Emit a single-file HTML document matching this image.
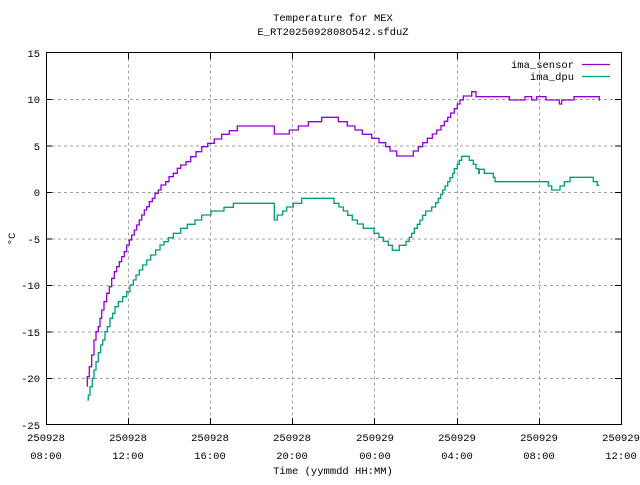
<!DOCTYPE html>
<html><head><meta charset="utf-8"><style>
body{margin:0;background:#fff}
svg text{font-family:"Liberation Mono",monospace;font-size:10.5px;fill:#000}
</style></head><body>
<svg id="s" width="640" height="480" viewBox="0 0 640 480" xmlns="http://www.w3.org/2000/svg">
<rect width="640" height="480" fill="#fff"/>
<g stroke="#a0a0a0" stroke-width="1" stroke-dasharray="3,3" fill="none">
<path d="M46 99.5H621M46 146H621M46 192.5H621M46 239H621M46 285.5H621M46 332H621M46 378.5H621"/>
<path d="M128.5 52.5V424.5M210.5 52.5V424.5M292.5 52.5V424.5M374.5 52.5V424.5M457.5 52.5V424.5M539.5 52.5V424.5"/>
</g>
<g stroke="#000" stroke-width="1" fill="none">
<rect x="46.5" y="52.5" width="575" height="372"/>
<path d="M46 99.5h6M46 146h6M46 192.5h6M46 239h6M46 285.5h6M46 332h6M46 378.5h6M621 99.5h-6M621 146h-6M621 192.5h-6M621 239h-6M621 285.5h-6M621 332h-6M621 378.5h-6"/>
<path d="M128.5 424v-6M210.5 424v-6M292.5 424v-6M374.5 424v-6M457.5 424v-6M539.5 424v-6M128.5 53v6M210.5 53v6M292.5 53v6M374.5 53v6M457.5 53v6M539.5 53v6"/>
</g>
<g text-anchor="end">
<text x="40" y="57">15</text><text x="40" y="103">10</text><text x="40" y="150">5</text><text x="40" y="196">0</text>
<text x="40" y="243">-5</text><text x="40" y="289">-10</text><text x="40" y="336">-15</text><text x="40" y="382">-20</text><text x="40" y="429">-25</text>
</g>
<g text-anchor="middle">
<text x="46" y="441">250928</text><text x="46" y="459">08:00</text>
<text x="128" y="441">250928</text><text x="128" y="459">12:00</text>
<text x="210" y="441">250928</text><text x="210" y="459">16:00</text>
<text x="292" y="441">250928</text><text x="292" y="459">20:00</text>
<text x="375" y="441">250929</text><text x="375" y="459">00:00</text>
<text x="457" y="441">250929</text><text x="457" y="459">04:00</text>
<text x="539" y="441">250929</text><text x="539" y="459">08:00</text>
<text x="621" y="441">250929</text><text x="621" y="459">12:00</text>
<text x="333" y="21">Temperature for MEX</text>
<text x="333" y="35">E_RT2025092808O542.sfduZ</text>
<text x="333" y="474">Time (yymmdd HH:MM)</text>
<text transform="translate(15,239) rotate(-90)">°C</text>
</g>
<g text-anchor="end"><text x="574" y="68">ima_sensor</text><text x="574" y="80">ima_dpu</text></g>
<path d="M582 64.5h28" stroke="#9400d3" stroke-width="1.3"/>
<path d="M582 76.5h28" stroke="#009e73" stroke-width="1.3"/>
<polyline id="a" fill="none" stroke="#9400d3" stroke-width="1.3"/>
<polyline id="b" fill="none" stroke="#009e73" stroke-width="1.3"/>
</svg>
<script>
function tr(ox,oy,a){var r=[];for(var i=0;i<a.length;i+=2)r.push([ox+a[i]/3,oy+a[i+1]/3]);return r;}
function steps(p){var r=[p[0]];for(var i=1;i<p.length;i++){var q=r[r.length-1];if(p[i][0]!=q[0]&&p[i][1]!=q[1])r.push([p[i][0],q[1]]);r.push(p[i]);}return r;}
var s1=steps(tr(80,110,[22,830,22,800,28,770,35,735,42,690,48,665,55,650,60,625,65,600,72,575,80,550,88,530,95,505,103,485,110,470,118,455,125,440,133,425,140,405,148,390,155,375,163,360,170,345,178,330,185,315,193,300,200,290,208,275,217,265,225,250,235,240,243,225,257,215,267,200,280,190,292,175,302,165,318,155,332,140,348,125,365,110,383,100,403,87,425,73,448,62,472,48,580,48]));
var s2=tr(260,80,[43,138,43,162,88,162,88,150,115,150,115,138,145,138,145,125,185,125,185,112,235,112,235,125,262,125,262,138,285,138,285,150,307,150,307,163,335,163,335,175,357,175,357,188,377,188,377,200,390,200,390,213,410,213,410,228,460,228,460,213,475,213,475,200,488,200,488,188,502,188,502,175,517,175,517,162,530,162,530,150,543,150,543,137,553,137,553,124,563,124,563,112,572,112,572,99,583,99,583,86,592,86,592,72,600,72,600,60,610,60,610,48]);
var s3=tr(440,50,[95,140,95,125,108,125,108,140,208,140,208,150,255,150,255,140,275,140,275,150,290,150,290,140,318,140,318,150,358,150,358,162,365,162,365,150,402,150,402,140,478,140,478,152]);
var d1=steps(tr(80,110,[22,870,25,855,30,830,37,805,42,780,48,755,55,728,62,705,68,690,75,665,82,650,90,625,98,610,105,590,115,575,128,560,140,545,150,525,160,510,168,495,178,480,188,465,200,450,212,435,227,420,240,405,252,395,265,383,280,370,302,355,322,343,345,330,365,315,393,303,432,292,460,280,582,280]));
var d2=tr(260,80,[43,370,43,420,52,420,52,405,68,405,68,393,80,393,80,381,100,381,100,370,125,370,125,355,222,355,222,370,237,370,237,381,250,381,250,393,263,393,263,406,277,406,277,420,292,420,292,432,310,432,310,445,342,445,342,460,357,460,357,472,370,472,370,484,385,484,385,496,397,496,397,511,418,511,418,496,438,496,438,484,448,484,448,472,455,472,455,460,463,460,463,445,472,445,472,433,480,433,480,420,488,420,488,406,497,406,497,393,515,393,515,381,527,381,527,368,535,368,535,355,542,355,542,343,548,343,548,330,555,330,555,318,563,318,563,305,570,305,570,293,578,293,578,280,583,280,583,266,592,266,592,253,598,253,598,241,605,241,605,229,628,229,628,241,640,241,640,253,648,253,648,266,656,266,656,280]);
var d3=tr(440,50,[118,358,133,358,133,370,160,370,160,382,165,382,165,395,325,395,325,408,335,408,335,420,360,420,360,408,373,408,373,395,390,395,390,382,460,382,460,395,472,395,472,406,478,406]);
function j(){var r=[];for(var k=0;k<arguments.length;k++)r=r.concat(arguments[k]);return steps(r).map(function(p){return p[0].toFixed(1)+","+p[1].toFixed(1)}).join(" ");}
document.getElementById("a").setAttribute("points",j(s1,s2,s3));
document.getElementById("b").setAttribute("points",j(d1,d2,d3));
</script>
</body></html>
